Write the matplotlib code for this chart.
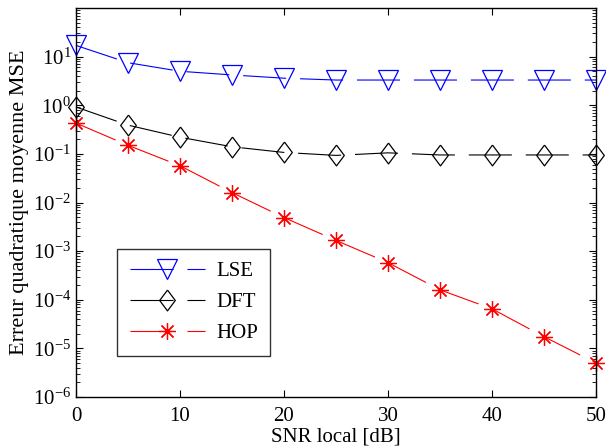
import matplotlib
matplotlib.use("Agg")
import matplotlib.pyplot as plt
import numpy as np

plt.rcParams["font.family"] = ["Liberation Serif", "DejaVu Serif"]
plt.rcParams["mathtext.fontset"] = "custom"
plt.rcParams["mathtext.rm"] = "Liberation Serif"
plt.rcParams["mathtext.it"] = "Liberation Serif:italic"
plt.rcParams["lines.scale_dashes"] = False

snr_db = [0, 5, 10, 15, 20, 25, 30, 35, 40, 45, 50]
mse_lse = [17, 7.5, 5.0, 4.2, 3.6, 3.3, 3.3, 3.3, 3.3, 3.3, 3.3]
mse_dft = [0.92, 0.39, 0.22, 0.14, 0.107, 0.093, 0.105, 0.095, 0.095, 0.095, 0.095]
mse_hop = [0.43, 0.15, 0.057, 0.016, 0.0049, 0.00166, 5.8e-4, 1.6e-4, 6.5e-5, 1.74e-5, 5e-6]

diamond = [(0, 1), (0.75, 0), (0, -1), (-0.75, 0), (0, 1)]
dash = (0, (31, 10))
fs = 15

fig = plt.figure(figsize=(6.06, 4.47), dpi=100)
ax = fig.add_axes([76 / 606, 50 / 447, 520 / 606, 389 / 447])

ax.semilogy(snr_db, mse_lse, color="blue", ls=dash, lw=0.8, marker="v",
            ms=14, mfc="none", mec="blue", mew=0.9, label="LSE", clip_on=False)
ax.semilogy(snr_db, mse_dft, color="black", ls=dash, lw=0.8, marker=diamond,
            ms=15, mfc="none", mec="black", mew=0.9, label="DFT", clip_on=False)
ax.semilogy(snr_db, mse_hop, color="red", ls=dash, lw=0.8, marker=(8, 2, 0),
            ms=12, mec="red", mew=0.9, label="HOP", clip_on=False)

ax.set_xlim(0, 50)
ax.set_ylim(1e-6, 1e2)
ax.set_xticks(range(0, 51, 10))
ax.set_yticks([10.0 ** k for k in range(-6, 2)])
ax.tick_params(which="both", direction="in", top=True, right=True, labelsize=fs)
ax.tick_params(which="major", length=5)
ax.tick_params(which="minor", length=3)
ax.tick_params(axis="x", which="major", pad=7)
ax.tick_params(axis="x", which="minor", bottom=False, top=False)
for s in ax.spines.values():
    s.set_linewidth(1.0)

ax.set_xlabel("SNR local [dB]", fontsize=fs, labelpad=1)
ax.set_ylabel("Erreur quadratique moyenne MSE", fontsize=16, labelpad=3)

leg = ax.legend(loc="upper left", bbox_to_anchor=(41 / 520, (397 - 249) / 389), fontsize=fs,
                frameon=True, fancybox=False, edgecolor="black", handlelength=3.6,
                handletextpad=0.55, borderpad=0.6, labelspacing=0.55, borderaxespad=0)
leg.get_frame().set_linewidth(1.0)

fig.savefig("out.png", dpi=100)
